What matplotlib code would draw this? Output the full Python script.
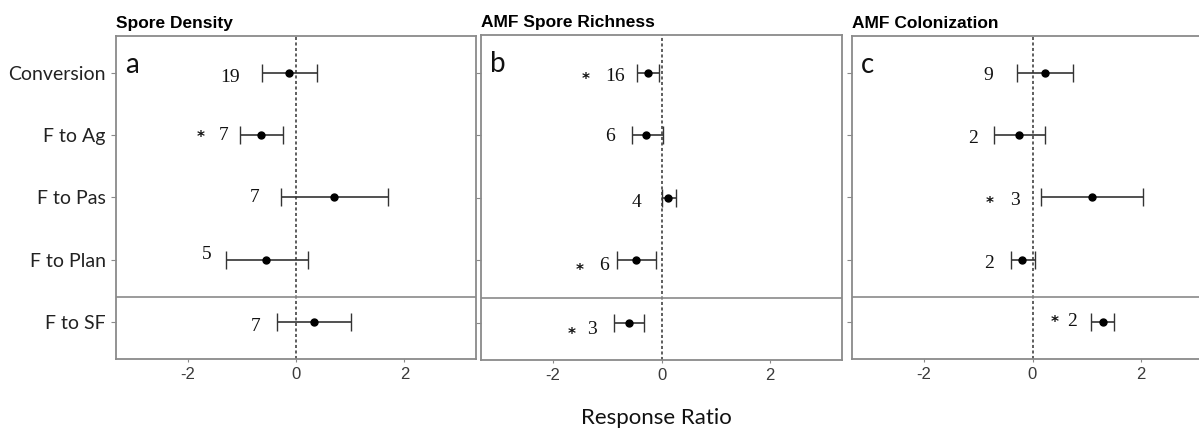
import numpy as np
import matplotlib.pyplot as plt

# forest plot of log response ratios (mean and 95% CI) for three AMF variables
rows = ['Conversion', 'F to Ag', 'F to Pas', 'F to Plan', 'F to SF']
panels = ['Spore Density', 'AMF Spore Richness', 'AMF Colonization']
letters = ['a', 'b', 'c']

sd_mean = [-0.12, -0.65, 0.71, -0.55, 0.33]
sd_lo = [-0.62, -1.03, -0.28, -1.30, -0.35]
sd_hi = [0.39, -0.24, 1.69, 0.23, 1.02]
sd_n = ['19', '7', '7', '5', '7']

rich_mean = [-0.24, -0.28, 0.12, -0.47, -0.60]
rich_lo = [-0.45, -0.54, 0.01, -0.81, -0.88]
rich_hi = [-0.04, 0.02, 0.26, -0.10, -0.32]
rich_n = ['16', '6', '4', '6', '3']

col_mean = [0.23, -0.24, 1.10, -0.19, 1.29]
col_lo = [-0.29, -0.71, 0.15, -0.40, 1.08]
col_hi = [0.75, 0.23, 2.03, 0.04, 1.50]
col_n = ['9', '2', '3', '2', '2']

# where the sample sizes and asterisks sit (x in data units, y offset in rows)
n_x = [[-1.22, -1.34, -0.77, -1.64, -0.75],
       [-0.85, -0.95, -0.46, -1.06, -1.28],
       [-0.82, -1.10, -0.33, -0.80, 0.73]]
n_dy = [[0.07, 0.0, 0.0, -0.08, 0.08],
        [0.06, 0.02, 0.08, 0.08, 0.12],
        [0.03, 0.05, 0.05, 0.06, 0.0]]
star_x = [[None, -1.75, None, None, None],
          [-1.39, None, None, -1.51, -1.65],
          [None, None, -0.78, None, 0.40]]
star_dy = [[0, 0.0, 0, 0, 0],
           [0.065, 0, 0, 0.12, 0.15],
           [0, 0, 0.06, 0, -0.03]]

means = [sd_mean, rich_mean, col_mean]
los = [sd_lo, rich_lo, col_lo]
his = [sd_hi, rich_hi, col_hi]
ns = [sd_n, rich_n, col_n]

fig = plt.figure(figsize=(11.99, 4.32), dpi=100)
W, H = 1199, 432
boxes = [(116, 36, 360, 323), (481, 35, 361, 325), (852, 36, 361, 323)]
serif = 'Liberation Serif'
calib = 'Lato'
grey = '#8a8a8a'

y = np.arange(1, len(rows) + 1)
for k in range(3):
    l, t, w, h = boxes[k]
    ax = fig.add_axes([l / W, 1 - (t + h) / H, w / W, h / H])
    m = np.array(means[k])
    lo = np.array(los[k])
    hi = np.array(his[k])
    ax.axvline(0, color='#333333', lw=1.1, ls=(0, (2.0, 1.6)), zorder=1)
    ax.axhline(4.6, color=grey, lw=1.2, zorder=1)
    ax.errorbar(m, y, xerr=[m - lo, hi - m], fmt='o', color='black', ms=5,
                ecolor='#333333', elinewidth=1.2, capsize=6.5, capthick=1.0, zorder=3)
    for i in range(len(rows)):
        ax.text(n_x[k][i], y[i] + n_dy[k][i], ns[k][i], fontsize=14,
                family=serif, ha='center', va='center', color='#111111')
        if star_x[k][i] is not None:
            ax.text(star_x[k][i], y[i] + star_dy[k][i] + 0.04, '*', fontsize=11,
                    family='DejaVu Sans', weight='bold', ha='center', va='center',
                    color='#111111')
    ax.set_xlim(-3.32, 3.32)
    ax.set_ylim(5.6, 0.4)
    ax.set_xticks([-2, 0, 2])
    ax.set_xticklabels(['-2', '0', '2'], family='Liberation Sans', fontsize=12, color='#3a3a3a')
    ax.set_yticks(y)
    if k == 0:
        ax.set_yticklabels(rows, family=calib, fontsize=14, color='#222222')
    else:
        ax.set_yticklabels([])
    ax.tick_params(axis='x', length=2, color=grey, pad=4)
    ax.tick_params(axis='y', length=3.5, color=grey, pad=4)
    for s in ax.spines.values():
        s.set_color(grey)
        s.set_linewidth(1.3)
    ax.text(0.025, 0.95, letters[k], transform=ax.transAxes, fontsize=20,
            family=calib, ha='left', va='top', color='#111111')
    ax.text(0.0, 1.015, panels[k], transform=ax.transAxes, fontsize=12.5,
            family='Liberation Sans', weight='bold', ha='left', va='bottom')

fig.text(656 / W, 1 - 418 / H, 'Response Ratio', fontsize=16, family=calib,
         ha='center', va='center', color='#111111')

fig.savefig('out.png', dpi=100)
